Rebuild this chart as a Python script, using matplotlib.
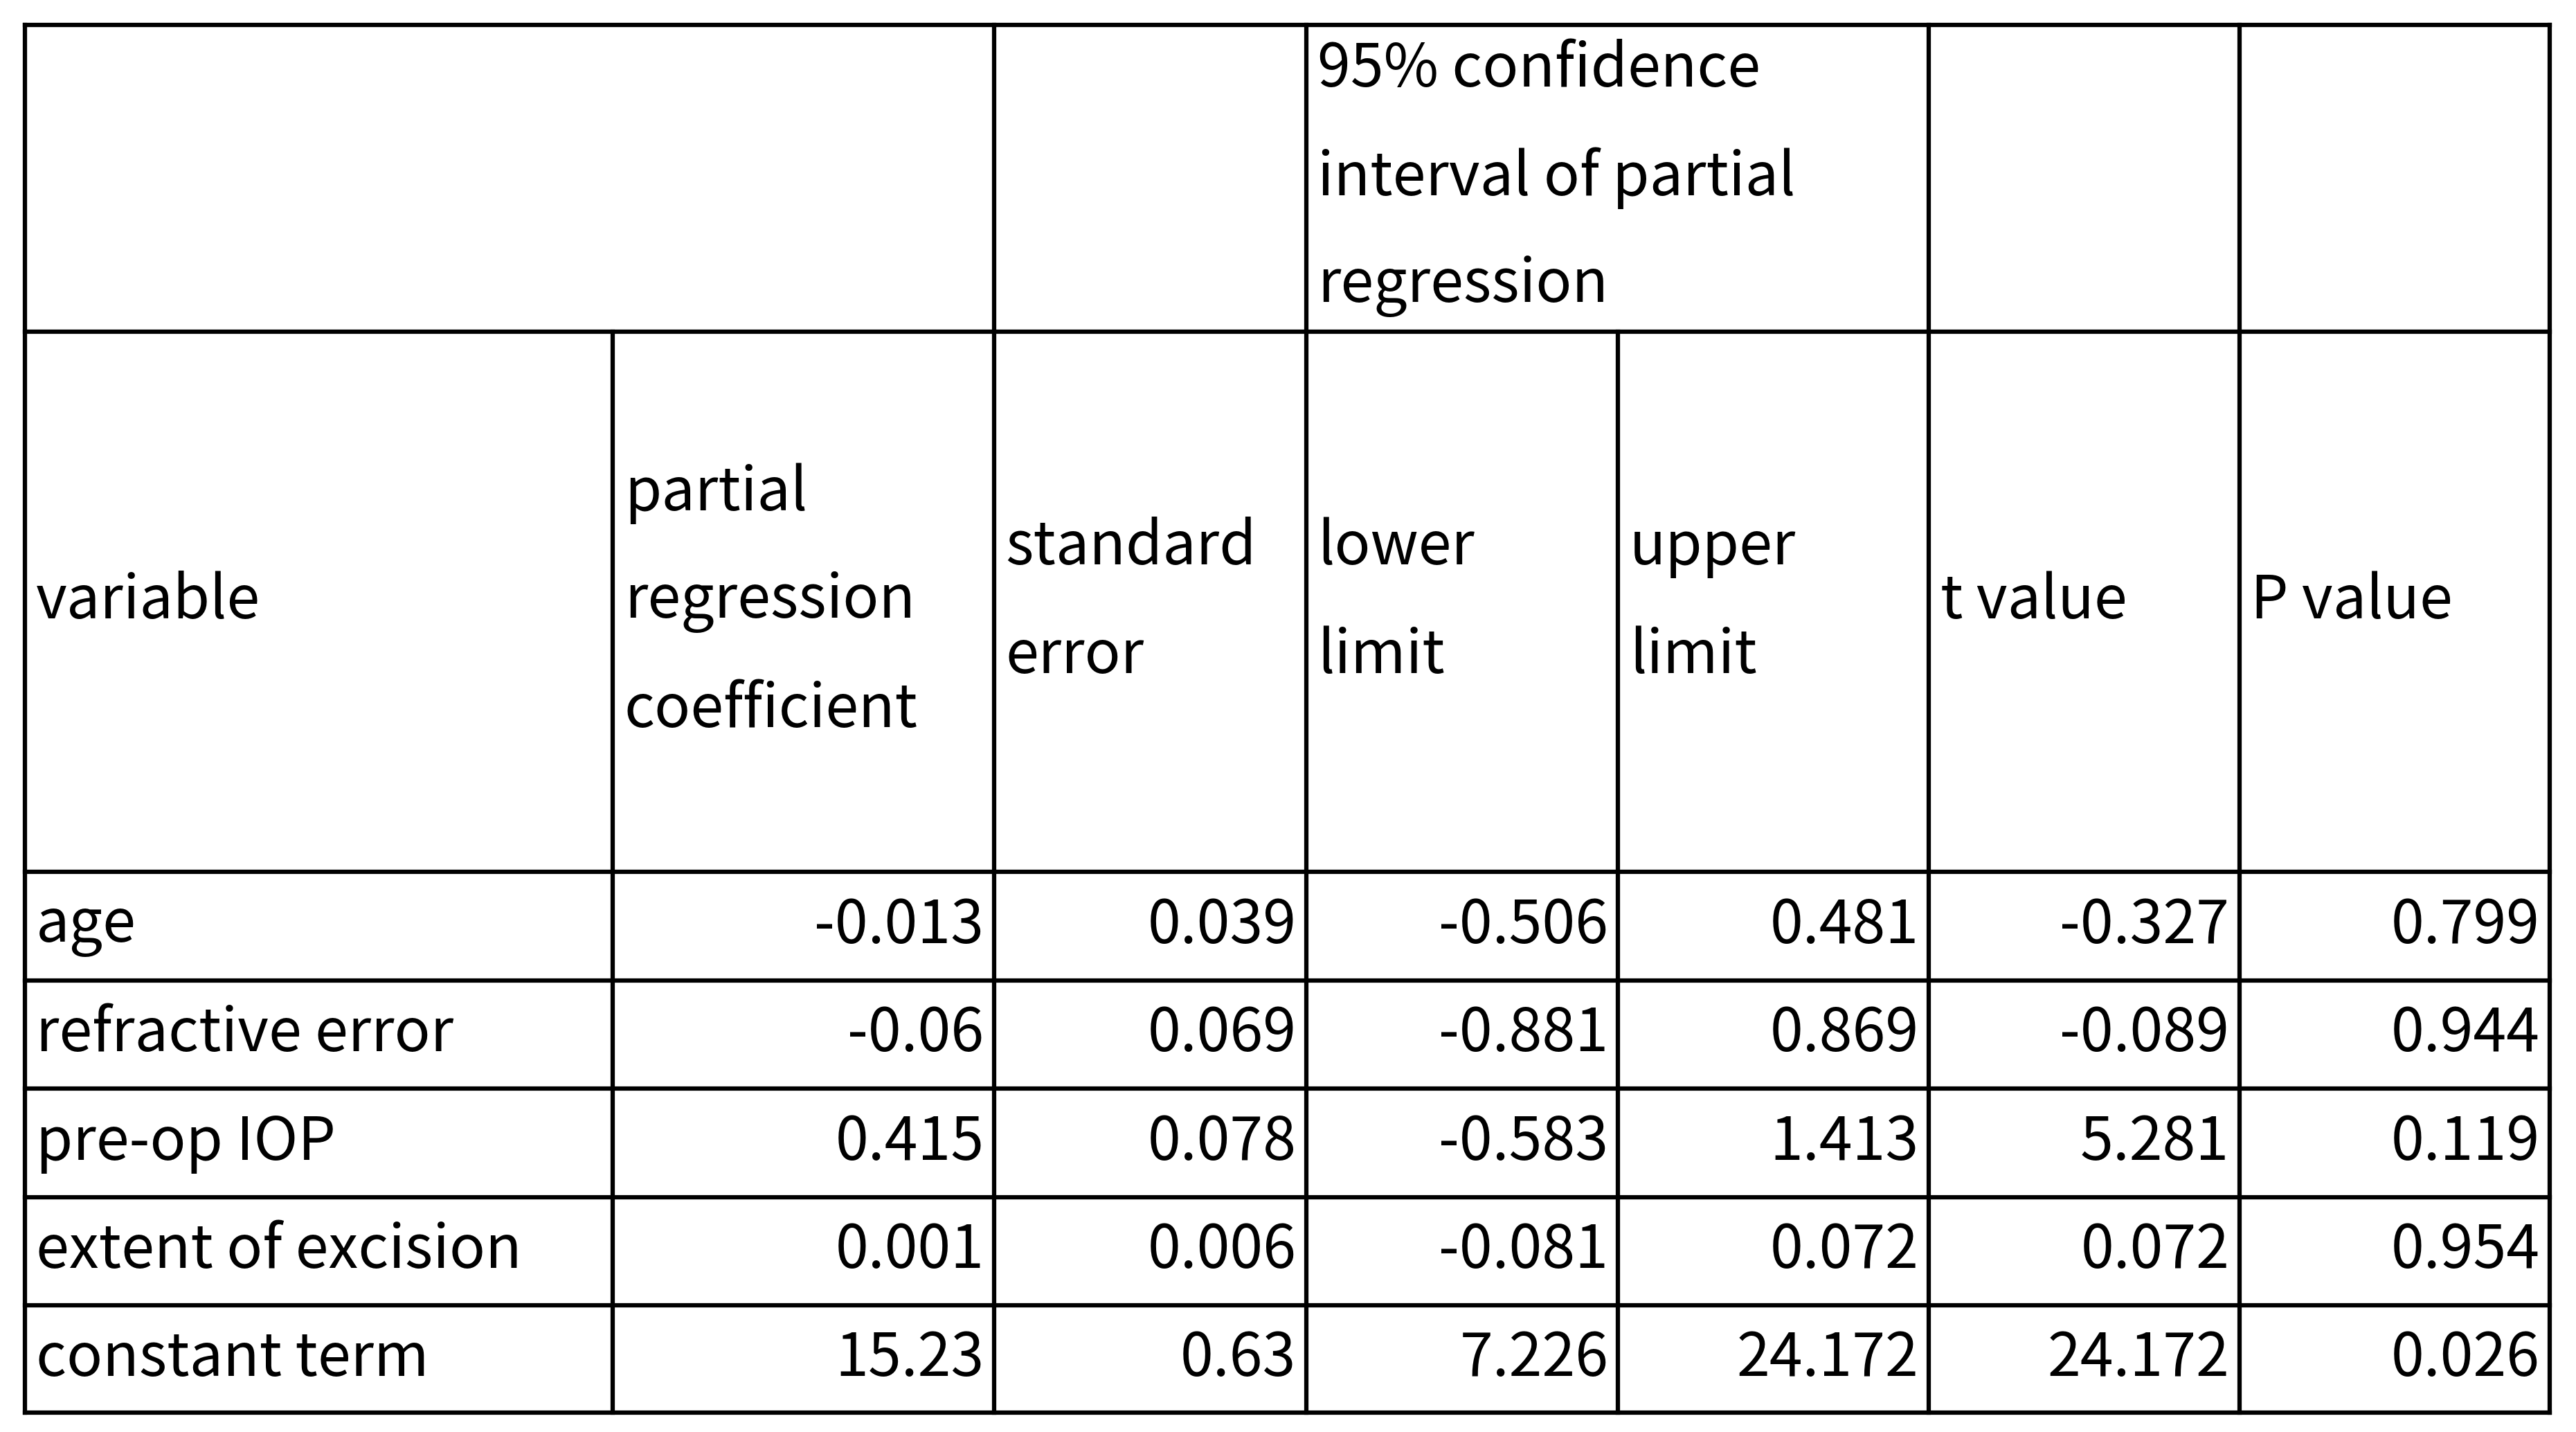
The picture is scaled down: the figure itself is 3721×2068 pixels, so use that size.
import matplotlib
matplotlib.use("Agg")
import matplotlib.pyplot as plt

plt.rcParams['font.family'] = ['Noto Sans CJK JP', 'DejaVu Sans']

variables = ["age", "refractive error", "pre-op IOP", "extent of excision", "constant term"]
coef = ["-0.013", "-0.06", "0.415", "0.001", "15.23"]
se = ["0.039", "0.069", "0.078", "0.006", "0.63"]
lower = ["-0.506", "-0.881", "-0.583", "-0.081", "7.226"]
upper = ["0.481", "0.869", "1.413", "0.072", "24.172"]
tval = ["-0.327", "-0.089", "5.281", "0.072", "24.172"]
pval = ["0.799", "0.944", "0.119", "0.954", "0.026"]
headers = [["variable"], ["partial", "regression", "coefficient"], ["standard", "error"],
           ["lower", "limit"], ["upper", "limit"], ["t value"], ["P value"]]
top_header = ["95% confidence", "interval of partial", "regression"]

W, H = 1568, 872
fig = plt.figure(figsize=(37.21, 20.68), dpi=100)
ax = fig.add_axes([0, 0, 1, 1])
ax.set_xlim(0, W); ax.set_ylim(H, 0); ax.axis('off')

xs = [15, 373, 605, 795, 985, 1174, 1363, 1552]
ys = [15, 202, 531, 597, 663, 729, 795, 860]
lw = 4.5
kw = dict(color='black', lw=lw, solid_capstyle='projecting')
for y in ys:
    ax.plot([xs[0], xs[-1]], [y, y], **kw)
for i, x in enumerate(xs):
    if i in (1, 4):
        ax.plot([x, x], [ys[1], ys[-1]], **kw)
    else:
        ax.plot([x, x], [ys[0], ys[-1]], **kw)

fs = 62
ls = 66
def lines(x, yc, txts):
    n = len(txts)
    for k, t in enumerate(txts):
        ax.text(x, yc + (k - (n - 1) / 2) * ls, t, fontsize=fs, ha='left', va='center')

lines(xs[3] + 7, (ys[0] + ys[1]) / 2, top_header)
for j, h in enumerate(headers):
    lines(xs[j] + 7, (ys[1] + ys[2]) / 2, h)

cols = [coef, se, lower, upper, tval, pval]
for r in range(5):
    yc = (ys[2 + r] + ys[3 + r]) / 2
    ax.text(xs[0] + 7, yc, variables[r], fontsize=fs, ha='left', va='center')
    for c, col in enumerate(cols):
        ax.text(xs[c + 2] - 6, yc, col[r], fontsize=fs, ha='right', va='center')

fig.savefig("out.png", dpi=100, facecolor='white')
